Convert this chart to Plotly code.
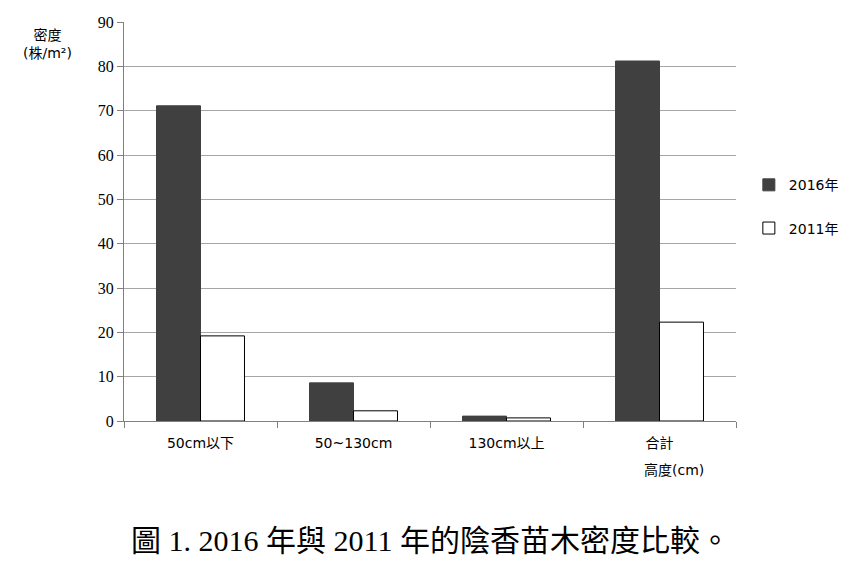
import plotly.graph_objects as go

categories = ["50cm以下", "50~130cm", "130cm以上", "合計"]
density_2016 = [71.1, 8.6, 1.1, 81.2]
density_2011 = [19.2, 2.3, 0.7, 22.3]

serif = "Liberation Serif, Times New Roman, Noto Sans CJK TC, serif"
sans = "DejaVu Sans, Noto Sans CJK TC, sans-serif"

fig = go.Figure()
fig.add_trace(go.Bar(x=categories, y=density_2016, name="2016年",
                     marker=dict(color="#404040", line=dict(color="#404040", width=1)),
                     legendgroup="a"))
fig.add_trace(go.Bar(x=categories, y=density_2011, name="2011年",
                     marker=dict(color="white", line=dict(color="black", width=1)),
                     legendgroup="b"))

# the page adds an 8px body margin, so margins are shifted to compensate
fig.update_layout(
    width=858, height=580,
    margin=dict(l=116, r=130, t=14, b=167, autoexpand=False),
    plot_bgcolor="white", paper_bgcolor="white",
    barmode="group", bargap=0.425, bargroupgap=0,
    showlegend=True,
    legend=dict(x=1.021, y=0.537, xanchor="left", yanchor="middle",
                font=dict(family=sans, size=14, color="black"),
                tracegroupgap=22, traceorder="grouped", itemwidth=30),
    xaxis=dict(showline=True, linecolor="#808080", ticks="outside", tickson="boundaries",
               ticklen=6, tickcolor="#808080", ticklabelstandoff=9,
               tickfont=dict(family=sans, size=14, color="black")),
    yaxis=dict(range=[0, 90], dtick=10, showgrid=True, gridcolor="#a6a6a6",
               showline=True, linecolor="#808080", ticks="outside", ticklen=6,
               tickcolor="#808080", zeroline=False,
               tickfont=dict(family=serif, size=16, color="black")),
    font=dict(family=sans, color="black"),
)

fig.add_annotation(text="密度<br>(株/m²)", xref="x domain", yref="y domain", x=-0.125, y=0.945,
                   xanchor="center", yanchor="middle", showarrow=False,
                   font=dict(family=sans, size=14, color="black"))
fig.add_annotation(text="高度(cm)", xref="x domain", yref="y domain", x=0.898, y=-0.123,
                   xanchor="center", yanchor="middle", showarrow=False,
                   font=dict(family=sans, size=14, color="black"))
fig.add_annotation(text="圖 1. 2016 年與 2011 年的陰香苗木密度比較。", xref="paper", yref="paper",
                   x=0.5, y=-0.3, xanchor="center", yanchor="middle", showarrow=False,
                   font=dict(family=serif, size=30, color="black"))

fig.write_html("out.html")
